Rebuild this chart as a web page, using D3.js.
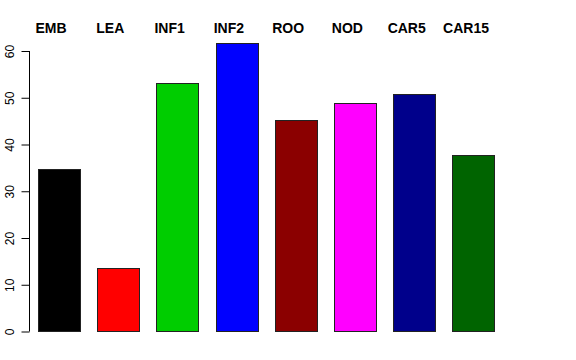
<!DOCTYPE html>
<html>
<head>
<meta charset="utf-8">
<script src="https://cdn.jsdelivr.net/npm/d3@7"></script>
<style>
  html, body { margin: 0; padding: 0; background: #fff; }
  svg { display: block; }
</style>
</head>
<body>
<script>
const categories = ["EMB", "LEA", "INF1", "INF2", "ROO", "NOD", "CAR5", "CAR15"];
const values = [34.7, 13.5, 53.0, 61.7, 45.1, 48.8, 50.8, 37.6];
const colors = ["#000000", "#FF0000", "#00CD00", "#0000FF", "#8B0000", "#FF00FF", "#00008B", "#006400"];
const yTicks = [0, 10, 20, 30, 40, 50, 60];

const W = 576, H = 360;
const svg = d3.select("body").append("svg").attr("width", W).attr("height", H);

const x = d3.scaleBand().domain(categories).range([21.0, 511.5]).paddingInner(0.4 / 1.4).paddingOuter(0.4 / 1.4);
const y = d3.scaleLinear().domain([0, 60]).range([331, 50.5]);
const labelX = d3.scalePoint().domain(categories).range([51, 466]);

svg.append("g").selectAll("rect").data(categories).join("rect")
  .attr("x", d => Math.round(x(d)) + 0.5)
  .attr("y", (d, i) => Math.round(y(values[i])) + 0.5)
  .attr("width", Math.round(x.bandwidth()))
  .attr("height", (d, i) => Math.round(y(0)) - Math.round(y(values[i])))
  .attr("fill", (d, i) => colors[i])
  .attr("stroke", "#222")
  .attr("stroke-width", 1);

const axis = d3.axisLeft(y).tickValues(yTicks).tickSize(8).tickPadding(4).tickFormat(d3.format("d"));
const g = svg.append("g").attr("transform", "translate(29.5,0.5)").call(axis);
g.select(".domain").attr("d", `M0,${y(0)}V${y(60)}`).attr("stroke", "#000");
g.selectAll(".tick line").attr("stroke", "#000");
g.selectAll(".tick text")
  .attr("font-family", "Liberation Sans, Arial, sans-serif")
  .attr("font-size", 12)
  .attr("fill", "#000")
  .attr("text-anchor", "middle")
  .attr("dy", null)
  .attr("transform", "rotate(-90)")
  .attr("x", 0)
  .attr("y", -16);

svg.append("g").selectAll("text").data(categories).join("text")
  .attr("x", d => labelX(d))
  .attr("y", 33)
  .attr("text-anchor", "middle")
  .attr("font-family", "Liberation Sans, Arial, sans-serif")
  .attr("font-weight", "bold")
  .attr("font-size", 14)
  .attr("fill", "#000")
  .text(d => d);
</script>
</body>
</html>
